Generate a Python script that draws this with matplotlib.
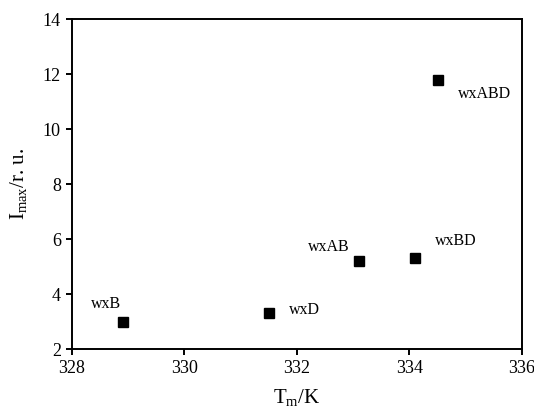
import matplotlib
matplotlib.use('Agg')
import matplotlib.pyplot as plt

plt.rcParams['font.family'] = ['Liberation Serif', 'DejaVu Serif']
plt.rcParams['mathtext.fontset'] = 'custom'
plt.rcParams['mathtext.rm'] = 'Liberation Serif'
plt.rcParams['mathtext.it'] = 'Liberation Serif:italic'

# melting temperature (K) vs max intensity (r. u.)
names = ['wxB', 'wxD', 'wxAB', 'wxBD', 'wxABD']
tm = [328.9, 331.5, 333.1, 334.1, 334.5]
imax = [3.0, 3.3, 5.2, 5.3, 11.8]
label_offsets = [(-17, 18), (36, 3), (-30, 14), (41, 17), (47, -14)]

fig = plt.figure(figsize=(5.34, 4.08), dpi=100)
ax = fig.add_axes([0.1348, 0.1446, 0.8427, 0.8088])

ax.plot(tm, imax, 's', color='black', markersize=7, linestyle='none')
for name, x, y, off in zip(names, tm, imax, label_offsets):
    ax.annotate(name, (x, y), xytext=(off[0] * 0.72, off[1] * 0.72),
                textcoords='offset points', ha='center', va='center', fontsize=11.5)

ax.set_xlim(328, 336)
ax.set_ylim(2, 14)
ax.set_xticks(range(328, 337, 2))
ax.set_yticks(range(2, 15, 2))

for s in ax.spines.values():
    s.set_linewidth(1.4)
ax.tick_params(direction='out', length=4, width=1.4, labelsize=13)
ax.tick_params(axis='x', pad=4)
ax.tick_params(axis='y', pad=4)

ax.set_xlabel(r'T$_{\mathrm{m}}$/K', fontsize=15, labelpad=7)
ax.set_ylabel(r'I$_{\mathrm{max}}$/r. u.', fontsize=15, labelpad=10)

plt.savefig('out.png', dpi=100)
